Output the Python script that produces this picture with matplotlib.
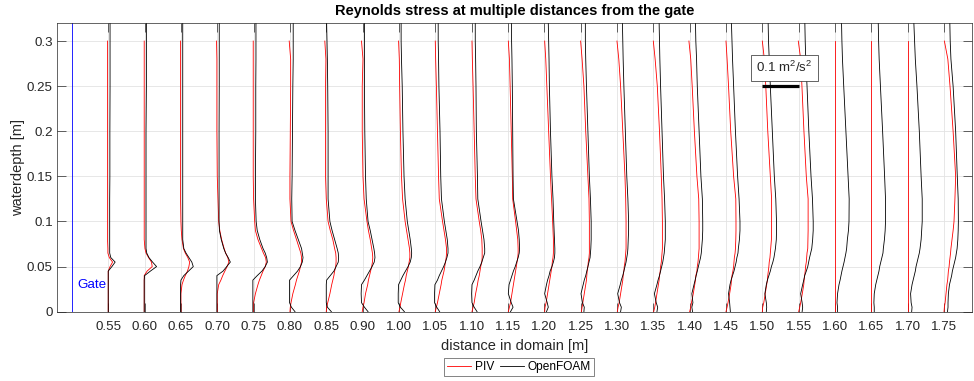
import numpy as np
import matplotlib
matplotlib.use("Agg")
import matplotlib.pyplot as plt
from matplotlib.lines import Line2D

plt.rcParams['font.family'] = ['Liberation Sans', 'DejaVu Sans']
plt.rcParams['mathtext.default'] = 'regular'

# Measurement stations (tick labels, one slot per station)
station_labels = ['0.55', '0.60', '0.65', '0.70', '0.75', '0.80', '0.85', '0.90',
                  '1.00', '1.05', '1.10', '1.15', '1.20', '1.25', '1.30', '1.35',
                  '1.40', '1.45', '1.50', '1.55', '1.60', '1.65', '1.70', '1.75']
gate_slot = -1          # gate sits one slot upstream of the first station
scale_ref = 0.1         # reference stress shown by the scale bar [m^2/s^2]
scale_slot = 18         # station where the scale bar starts

# Vertical sampling [m]
depth_of = [0.000, 0.005, 0.010, 0.020, 0.030, 0.035, 0.040, 0.045, 0.050, 0.055,
            0.060, 0.065, 0.070, 0.080, 0.090, 0.100, 0.125, 0.150, 0.200, 0.250,
            0.280, 0.300, 0.320]
depth_piv = [0.000, 0.005, 0.010, 0.020, 0.030, 0.035, 0.040, 0.045, 0.050, 0.055,
             0.060, 0.065, 0.070, 0.080, 0.090, 0.100, 0.125, 0.150, 0.200, 0.250,
             0.280, 0.300]

# OpenFOAM Reynolds stress profiles [m^2/s^2]
of_055 = [0, 0, 0, 0, 0, 0, 0, 0, 0.010, 0.019, 0.007, 0.004, 0.004, 0.004, 0.004, 0.004, 0.004, 0.0045, 0.0045, 0.005, 0.005, 0.005, 0.005]
of_060 = [-0.001, -0.001, -0.001, -0.001, -0.001, -0.001, 0, 0.016, 0.033, 0.022, 0.012, 0.006, 0.004, 0.004, 0.004, 0.004, 0.004, 0.004, 0.004, 0.005, 0.005, 0.005, 0.005]
of_065 = [-0.001, -0.001, -0.001, -0.001, -0.001, 0, 0.008, 0.021, 0.034, 0.030, 0.022, 0.014, 0.008, 0.005, 0.005, 0.005, 0.005, 0.005, 0.005, 0.005, 0.005, 0.005, 0.005]
of_070 = [-0.001, -0.001, -0.001, -0.001, -0.001, -0.001, -0.001, 0.016, 0.026, 0.036, 0.030, 0.023, 0.018, 0.011, 0.006, 0.005, 0.005, 0.005, 0.005, 0.0055, 0.0055, 0.0055, 0.0055]
of_075 = [-0.002, -0.002, -0.002, -0.002, -0.002, -0.002, 0.010, 0.023, 0.032, 0.038, 0.036, 0.032, 0.026, 0.017, 0.010, 0.007, 0.005, 0.005, 0.006, 0.006, 0.0065, 0.0065, 0.0065]
of_080 = [0.014, 0.004, -0.001, -0.001, -0.001, -0.001, 0.010, 0.021, 0.029, 0.034, 0.036, 0.034, 0.032, 0.023, 0.014, 0.006, 0.005, 0.006, 0.007, 0.008, 0.009, 0.009, 0.009]
of_085 = [0.014, 0.003, 0, 0, 0, 0.001, 0.011, 0.021, 0.027, 0.033, 0.034, 0.033, 0.030, 0.023, 0.016, 0.010, 0.005, 0.005, 0.005, 0.004, 0.003, 0.002, 0.001]
of_090 = [0.015, 0.005, -0.003, -0.004, -0.003, 0.005, 0.012, 0.019, 0.026, 0.032, 0.034, 0.033, 0.031, 0.026, 0.021, 0.015, 0.010, 0.008, 0.006, 0.005, 0.005, 0.005, 0.005]
of_100 = [0.015, 0.004, -0.002, -0.002, -0.001, 0.005, 0.011, 0.018, 0.025, 0.031, 0.034, 0.035, 0.034, 0.031, 0.027, 0.023, 0.017, 0.014, 0.011, 0.009, 0.007, 0.006, 0.006]
of_105 = [0.012, 0.004, -0.002, -0.002, -0.001, 0.006, 0.011, 0.017, 0.023, 0.028, 0.032, 0.035, 0.035, 0.033, 0.029, 0.025, 0.017, 0.015, 0.013, 0.010, 0.009, 0.008, 0.008]
of_110 = [0.015, 0.007, 0.001, 0, 0.001, 0.007, 0.012, 0.017, 0.023, 0.028, 0.032, 0.036, 0.036, 0.034, 0.030, 0.026, 0.017, 0.016, 0.013, 0.012, 0.011, 0.010, 0.010]
of_115 = [0.007, 0.014, 0.009, 0.001, 0.003, 0.007, 0.011, 0.015, 0.020, 0.024, 0.028, 0.031, 0.032, 0.031, 0.029, 0.025, 0.015, 0.014, 0.013, 0.012, 0.011, 0.010, 0.010]
of_120 = [0.006, 0.011, 0.008, 0.001, 0.006, 0.009, 0.013, 0.016, 0.021, 0.025, 0.028, 0.029, 0.029, 0.028, 0.027, 0.026, 0.024, 0.021, 0.017, 0.014, 0.013, 0.012, 0.011]
of_125 = [0.009, 0.010, 0.005, 0.001, 0.007, 0.010, 0.014, 0.017, 0.020, 0.023, 0.026, 0.027, 0.028, 0.029, 0.029, 0.029, 0.027, 0.024, 0.020, 0.016, 0.014, 0.013, 0.013]
of_130 = [0.010, 0.012, 0.007, 0.002, 0.009, 0.012, 0.016, 0.019, 0.022, 0.025, 0.027, 0.029, 0.030, 0.031, 0.032, 0.032, 0.030, 0.027, 0.023, 0.019, 0.017, 0.016, 0.015]
of_135 = [0.010, 0.012, 0.008, 0.003, 0.010, 0.013, 0.017, 0.020, 0.023, 0.026, 0.028, 0.030, 0.031, 0.033, 0.033, 0.033, 0.031, 0.028, 0.024, 0.020, 0.018, 0.017, 0.016]
of_140 = [0.008, 0.006, 0.009, 0.006, 0.012, 0.015, 0.018, 0.021, 0.024, 0.027, 0.030, 0.032, 0.033, 0.035, 0.036, 0.036, 0.035, 0.031, 0.026, 0.021, 0.019, 0.017, 0.016]
of_145 = [0.012, 0.011, 0.010, 0.007, 0.011, 0.014, 0.018, 0.022, 0.025, 0.028, 0.030, 0.033, 0.034, 0.037, 0.0385, 0.0385, 0.036, 0.032, 0.026, 0.021, 0.018, 0.0165, 0.015]
of_150 = [0.011, 0.012, 0.011, 0.007, 0.011, 0.014, 0.018, 0.022, 0.025, 0.029, 0.032, 0.034, 0.036, 0.0385, 0.039, 0.039, 0.037, 0.033, 0.0275, 0.022, 0.019, 0.017, 0.016]
of_155 = [0.0095, 0.011, 0.0095, 0.0055, 0.011, 0.014, 0.0165, 0.021, 0.025, 0.0275, 0.030, 0.033, 0.036, 0.0385, 0.040, 0.040, 0.038, 0.034, 0.028, 0.023, 0.0195, 0.018, 0.017]
of_160 = [0.007, 0.007, 0.0055, 0.007, 0.011, 0.014, 0.0165, 0.019, 0.022, 0.025, 0.0275, 0.030, 0.032, 0.034, 0.037, 0.0385, 0.039, 0.036, 0.030, 0.024, 0.0205, 0.019, 0.018]
of_165 = [0.008, 0.008, 0.007, 0.008, 0.012, 0.015, 0.018, 0.021, 0.023, 0.026, 0.029, 0.032, 0.033, 0.036, 0.038, 0.039, 0.039, 0.0365, 0.031, 0.025, 0.0215, 0.020, 0.019]
of_170 = [0.011, 0.012, 0.0095, 0.008, 0.012, 0.015, 0.018, 0.021, 0.023, 0.026, 0.029, 0.032, 0.034, 0.037, 0.0385, 0.040, 0.040, 0.037, 0.032, 0.0255, 0.021, 0.019, 0.017]
of_175 = [0.0095, 0.011, 0.011, 0.012, 0.015, 0.018, 0.021, 0.023, 0.026, 0.029, 0.032, 0.034, 0.036, 0.038, 0.039, 0.0395, 0.039, 0.0365, 0.032, 0.025, 0.019, 0.017, 0.016]

# PIV Reynolds stress profiles [m^2/s^2]
piv_055 = [0, 0, 0, 0, 0, 0, 0, 0, 0.005, 0.012, 0.003, -0.001, -0.001, -0.002, -0.002, -0.002, -0.002, -0.002, -0.002, -0.002, -0.002, -0.002]
piv_060 = [-0.001, -0.001, -0.001, -0.001, -0.001, -0.001, -0.001, 0.007, 0.021, 0.019, 0.011, 0.004, 0.001, -0.001, -0.001, -0.001, -0.001, -0.001, -0.001, -0.001, -0.001, -0.001]
piv_065 = [0, 0, 0, 0, 0.003, 0.007, 0.012, 0.018, 0.022, 0.024, 0.019, 0.012, 0.007, 0.003, 0.001, 0, -0.001, -0.001, -0.001, -0.001, -0.001, -0.001]
piv_070 = [0, 0, 0, 0, 0.004, 0.010, 0.015, 0.021, 0.027, 0.032, 0.029, 0.023, 0.019, 0.012, 0.007, 0.004, 0.002, 0, -0.001, -0.001, -0.001, -0.002]
piv_075 = [0, 0, 0, 0.005, 0.012, 0.016, 0.021, 0.026, 0.032, 0.035, 0.033, 0.027, 0.022, 0.012, 0.005, 0.003, 0, -0.001, -0.001, -0.001, -0.001, -0.001]
piv_080 = [0, 0.001, 0.003, 0.008, 0.015, 0.018, 0.022, 0.026, 0.029, 0.032, 0.032, 0.030, 0.026, 0.018, 0.010, 0.003, 0, 0, 0.001, 0.002, 0.002, -0.002]
piv_085 = [0, 0.001, 0.004, 0.010, 0.015, 0.018, 0.021, 0.023, 0.026, 0.027, 0.027, 0.026, 0.023, 0.018, 0.011, 0.005, 0, -0.002, -0.002, -0.002, -0.001, -0.004]
piv_090 = [-0.001, 0.001, 0.004, 0.008, 0.014, 0.016, 0.019, 0.022, 0.025, 0.027, 0.028, 0.027, 0.025, 0.021, 0.016, 0.012, 0.004, 0.001, -0.001, -0.001, 0.001, -0.003]
piv_100 = [0, 0.003, 0.005, 0.010, 0.015, 0.018, 0.020, 0.023, 0.026, 0.028, 0.030, 0.030, 0.029, 0.025, 0.021, 0.017, 0.010, 0.007, 0.004, 0.002, 0.001, -0.001]
piv_105 = [0, 0.003, 0.006, 0.011, 0.016, 0.018, 0.021, 0.024, 0.026, 0.028, 0.030, 0.031, 0.031, 0.028, 0.024, 0.020, 0.011, 0.009, 0.006, 0.003, 0.001, 0]
piv_110 = [0.001, 0.004, 0.007, 0.011, 0.016, 0.018, 0.021, 0.023, 0.025, 0.028, 0.029, 0.029, 0.029, 0.028, 0.025, 0.021, 0.012, 0.010, 0.007, 0.004, 0.002, 0.001]
piv_115 = [0.001, 0.004, 0.007, 0.011, 0.015, 0.017, 0.019, 0.021, 0.023, 0.025, 0.027, 0.028, 0.028, 0.027, 0.024, 0.021, 0.013, 0.012, 0.009, 0.006, 0.004, 0.001]
piv_120 = [0.001, 0.002, 0.005, 0.009, 0.013, 0.015, 0.017, 0.019, 0.021, 0.022, 0.024, 0.025, 0.025, 0.025, 0.024, 0.023, 0.020, 0.017, 0.012, 0.007, 0.004, 0.001]
piv_125 = [0.002, 0.004, 0.006, 0.010, 0.014, 0.016, 0.017, 0.018, 0.020, 0.021, 0.023, 0.024, 0.024, 0.024, 0.024, 0.024, 0.023, 0.020, 0.014, 0.009, 0.004, 0]
piv_130 = [0.001, 0.003, 0.006, 0.010, 0.014, 0.016, 0.017, 0.019, 0.020, 0.022, 0.023, 0.024, 0.025, 0.025, 0.025, 0.025, 0.024, 0.022, 0.016, 0.010, 0.005, 0]
piv_135 = [0.001, 0.004, 0.006, 0.010, 0.014, 0.016, 0.017, 0.019, 0.020, 0.022, 0.023, 0.024, 0.025, 0.025, 0.025, 0.025, 0.024, 0.022, 0.017, 0.011, 0.005, 0]
piv_140 = [0, 0.003, 0.005, 0.010, 0.014, 0.016, 0.017, 0.020, 0.021, 0.023, 0.024, 0.025, 0.026, 0.026, 0.026, 0.026, 0.025, 0.020, 0.013, 0.007, 0.003, -0.002]
piv_145 = [0, 0.003, 0.0055, 0.010, 0.014, 0.015, 0.0165, 0.019, 0.021, 0.022, 0.023, 0.025, 0.026, 0.027, 0.0275, 0.0275, 0.027, 0.021, 0.013, 0.007, 0.003, 0]
piv_150 = [0, 0.001, 0.004, 0.008, 0.012, 0.014, 0.015, 0.0165, 0.018, 0.019, 0.021, 0.022, 0.023, 0.025, 0.0255, 0.0255, 0.0255, 0.022, 0.015, 0.0095, 0.0055, 0]
piv_155 = [0, 0.003, 0.0055, 0.010, 0.014, 0.015, 0.0165, 0.018, 0.019, 0.021, 0.022, 0.023, 0.025, 0.0255, 0.026, 0.026, 0.026, 0.021, 0.0145, 0.009, 0.0055, -0.001]
piv_160 = [0, 0, 0, 0, 0, 0, 0, 0, 0, 0, 0, 0, 0, 0, 0, 0, 0, 0, 0, 0, 0, 0]
piv_165 = [0, 0, 0, 0, 0, 0, 0, 0, 0, 0, 0, 0, 0, 0, 0, 0, 0, 0, 0, 0, 0, 0]
piv_170 = [0, 0, 0, 0, 0, 0, 0, 0, 0, 0, 0, 0, 0, 0, 0, 0, 0, 0, 0, 0, 0, 0]
piv_175 = [0, 0.001, 0.003, 0.0055, 0.008, 0.010, 0.011, 0.012, 0.014, 0.015, 0.0165, 0.018, 0.019, 0.022, 0.025, 0.0275, 0.030, 0.032, 0.025, 0.0165, 0.0105, 0.001]

of_profiles = [of_055, of_060, of_065, of_070, of_075, of_080, of_085, of_090,
               of_100, of_105, of_110, of_115, of_120, of_125, of_130, of_135,
               of_140, of_145, of_150, of_155, of_160, of_165, of_170, of_175]
piv_profiles = [piv_055, piv_060, piv_065, piv_070, piv_075, piv_080, piv_085, piv_090,
                piv_100, piv_105, piv_110, piv_115, piv_120, piv_125, piv_130, piv_135,
                piv_140, piv_145, piv_150, piv_155, piv_160, piv_165, piv_170, piv_175]

# one station slot corresponds to scale_ref of stress
stress_to_slot = 1.0 / scale_ref

axis_col = '#262626'
W, H = 974, 381
fig = plt.figure(figsize=(W / 100, H / 100), dpi=100)
ax = fig.add_axes([57 / W, 1 - 311.7 / H, (972 - 57) / W, (311.7 - 23) / H])

slots = np.arange(len(station_labels))
for k, (of, piv) in enumerate(zip(of_profiles, piv_profiles)):
    ax.plot(slots[k] + stress_to_slot * np.asarray(piv), depth_piv, color='red', lw=0.6)
    ax.plot(slots[k] + stress_to_slot * np.asarray(of), depth_of, color='black', lw=0.6)

# gate position
ax.axvline(gate_slot, color='blue', lw=0.6)
ax.text(gate_slot + 0.14, 0.030, 'Gate', color='blue', fontsize=9.6, va='center', ha='left')

# scale bar
ax.plot([scale_slot, scale_slot + stress_to_slot * scale_ref], [0.25, 0.25],
        color='black', lw=2.3, solid_capstyle='butt')
ax.text(scale_slot + 0.6, 0.2705, r'0.1 m$^2$/s$^2$', fontsize=9.6, ha='center', va='center',
        color=axis_col,
        bbox=dict(boxstyle='square,pad=0.4', fc='white', ec=axis_col, lw=0.5))

ax.set_xlim(-1.41, 23.77)
ax.set_ylim(0, 0.32)
ax.set_xticks(slots)
ax.set_xticklabels(station_labels)
ax.set_yticks([0, 0.05, 0.1, 0.15, 0.2, 0.25, 0.3])
ax.set_yticklabels(['0', '0.05', '0.1', '0.15', '0.2', '0.25', '0.3'])
ax.grid(True, color='#e3e3e3', lw=0.6)
ax.set_axisbelow(True)
ax.tick_params(direction='in', length=6.5, width=0.5, color=axis_col, top=True, right=True,
               labelsize=9.6, labelcolor=axis_col)
ax.tick_params(axis='x', pad=7)
ax.tick_params(axis='y', pad=3)
for sp in ax.spines.values():
    sp.set_color(axis_col)
    sp.set_linewidth(0.5)

ax.set_title('Reynolds stress at multiple distances from the gate', fontsize=10.5,
             fontweight='bold', color='black', pad=6)
ax.set_xlabel('distance in domain [m]', fontsize=10.5, color=axis_col, labelpad=4)
ax.set_ylabel('waterdepth [m]', fontsize=10.5, color=axis_col, labelpad=1)

handles = [Line2D([], [], color='red', lw=0.6), Line2D([], [], color='black', lw=0.6)]
leg = fig.legend(handles, ['PIV', 'OpenFOAM'], loc='center',
                 bbox_to_anchor=(519 / W, 1 - 367 / H), ncol=2, fontsize=8.6,
                 frameon=True, fancybox=False, edgecolor=axis_col,
                 handlelength=2.0, handletextpad=0.3, columnspacing=0.5,
                 borderpad=0.25, borderaxespad=0)
leg.get_frame().set_linewidth(0.5)

fig.savefig('out.png', dpi=100)
